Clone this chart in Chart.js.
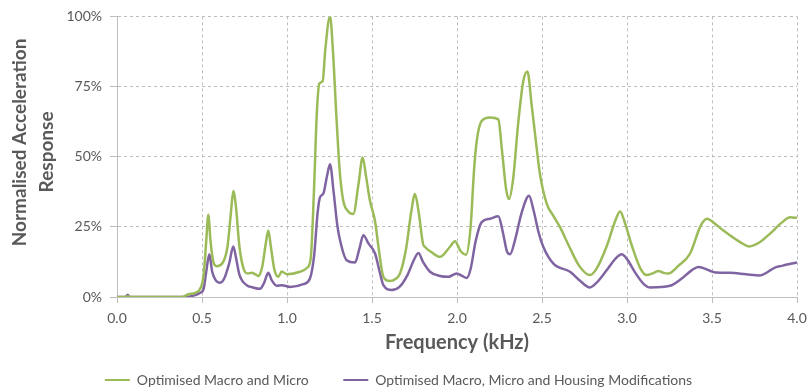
<!DOCTYPE html>
<html>
<head>
<meta charset="utf-8">
<script src="https://cdn.jsdelivr.net/npm/chart.js@4"></script>
<style>
  body { margin: 0; background: #fff; }
</style>
</head>
<body>
<canvas id="myChart" width="807" height="389"></canvas>
<script>
const seriesNames = ['Optimised Macro and Micro', 'Optimised Macro, Micro and Housing Modifications'];

// frequency in kHz, response in %
const greenFreq = [0, 0.05, 0.063, 0.08, 0.38, 0.42, 0.46, 0.49, 0.51, 0.525, 0.537, 0.55, 0.565, 0.586, 0.62, 0.65, 0.67, 0.684, 0.70, 0.72,
  0.745, 0.77, 0.792, 0.81, 0.831, 0.855, 0.875, 0.89, 0.905, 0.925, 0.949, 0.969, 1.0, 1.076, 1.12, 1.14, 1.16, 1.175, 1.19, 1.21,
  1.225, 1.253, 1.27, 1.29, 1.31, 1.331, 1.36, 1.39, 1.42, 1.445, 1.465, 1.488, 1.518, 1.54, 1.567, 1.606, 1.64, 1.665, 1.70, 1.73,
  1.753, 1.775, 1.80, 1.812, 1.85, 1.9, 1.96, 1.988, 2.02, 2.053, 2.08, 2.1, 2.116, 2.145, 2.194, 2.243, 2.265, 2.29, 2.306, 2.33,
  2.36, 2.39, 2.414, 2.44, 2.465, 2.488, 2.528, 2.566, 2.606, 2.66, 2.72, 2.782, 2.82, 2.88, 2.93, 2.959, 2.99, 3.03, 3.08, 3.116,
  3.15, 3.184, 3.215, 3.243, 3.30, 3.371, 3.43, 3.45, 3.469, 3.53, 3.567, 3.67, 3.72, 3.78, 3.84, 3.91, 3.96, 4.0];
const greenResp = [0, 0, 0.3, 0, 0, 1, 1.5, 3, 8, 20, 29.3, 20, 13, 11, 12, 18, 30, 37.8, 32, 18,
  10, 8.4, 8.6, 8.2, 7.5, 11, 19, 23.7, 18, 10, 7.2, 9.1, 8.1, 9, 10.5, 14, 40, 65, 76, 77,
  88, 100, 88, 65, 45, 34.3, 30.5, 29.6, 40, 49.7, 43, 34.3, 27, 17, 7.2, 5.7, 6.5, 8.4, 17, 30,
  36.7, 30, 19, 17.8, 16, 14.3, 18, 19.9, 16.5, 15.1, 25, 45, 55.6, 62.7, 64, 63.3, 52, 38, 34.9, 42,
  62, 77, 80.4, 68, 55, 43.8, 33.2, 29, 24.9, 18, 11, 7.8, 10, 18, 27, 30.5, 26, 18, 10, 7.8,
  8.4, 9.3, 8.6, 8.4, 11, 15.5, 25, 27, 27.9, 25.5, 23.7, 19.4, 18, 19.5, 22.5, 26.5, 28.4, 28.2];

const purpleFreq = [0, 0.05, 0.063, 0.075, 0.40, 0.45, 0.49, 0.51, 0.525, 0.543, 0.56, 0.58, 0.606, 0.63, 0.66, 0.684, 0.70, 0.72, 0.763, 0.80,
  0.841, 0.865, 0.89, 0.91, 0.939, 0.969, 1.018, 1.096, 1.135, 1.16, 1.18, 1.194, 1.214, 1.235, 1.253, 1.275, 1.295, 1.312, 1.351, 1.4,
  1.425, 1.449, 1.48, 1.518, 1.545, 1.567, 1.616, 1.66, 1.71, 1.745, 1.773, 1.80, 1.841, 1.90, 1.95, 1.998, 2.03, 2.057, 2.08, 2.11,
  2.145, 2.194, 2.243, 2.27, 2.295, 2.312, 2.34, 2.38, 2.424, 2.45, 2.48, 2.508, 2.567, 2.665, 2.72, 2.782, 2.82, 2.88, 2.93, 2.969,
  3.0, 3.05, 3.1, 3.135, 3.253, 3.32, 3.38, 3.42, 3.527, 3.606, 3.70, 3.782, 3.83, 3.87, 3.91, 4.0];
const purpleResp = [0, 0, 0.8, 0, 0, 0.5, 1.5, 3, 9, 15.2, 9, 6, 5.1, 6.5, 12, 18, 14, 8, 4.2, 3.4,
  2.9, 5, 8.6, 6, 4, 4.2, 3.6, 4.6, 6.6, 15, 30, 35.5, 36.9, 43, 47.3, 37, 26, 20.2, 13.1, 12.3,
  17, 22, 19, 15.5, 9, 4.2, 2.5, 3.5, 8, 13, 15.7, 12.5, 9, 7.5, 7.2, 8.4, 7.5, 6.8, 10, 20,
  26.7, 27.9, 28.8, 23, 16, 15.2, 20, 30, 36.1, 31, 23, 17.8, 11.9, 9, 6, 3.4, 5, 9.5, 13.5, 15.2,
  13.5, 8.5, 4.5, 3.4, 4, 6.5, 9.5, 10.7, 8.7, 8.6, 8.1, 7.7, 9, 10.5, 11.1, 12.3];

const textColor = '#595959';
const gridColor = '#bdbdbd';
const fontFamily = 'Lato, "Open Sans", sans-serif';

const ctx = document.getElementById('myChart').getContext('2d');
const myChart = new Chart(ctx, {
  type: 'line',
  data: {
    datasets: [
      {
        label: seriesNames[0],
        data: greenFreq.map((f, i) => ({ x: f, y: greenResp[i] })),
        borderColor: '#9bbb59',
        backgroundColor: '#9bbb59',
        borderWidth: 2.5,
        pointRadius: 0,
        fill: false,
        cubicInterpolationMode: 'monotone'
      },
      {
        label: seriesNames[1],
        data: purpleFreq.map((f, i) => ({ x: f, y: purpleResp[i] })),
        borderColor: '#8064a2',
        backgroundColor: '#8064a2',
        borderWidth: 2.5,
        pointRadius: 0,
        fill: false,
        cubicInterpolationMode: 'monotone'
      }
    ]
  },
  options: {
    responsive: false,
    animation: false,
    layout: { padding: { top: 15, right: 10, bottom: -8, left: 0 } },
    scales: {
      x: {
        type: 'linear',
        min: 0,
        max: 4,
        afterFit: (scale) => {
          scale.height = 66;
          scale.paddingLeft = 0;
          scale.paddingRight = 10;
        },
        ticks: {
          stepSize: 0.5,
          color: textColor,
          padding: 7,
          font: { family: fontFamily, size: 14 },
          callback: (v) => v.toFixed(1)
        },
        grid: { color: gridColor, tickLength: 6, lineWidth: 1 },
        border: { color: '#bfbfbf', dash: [3, 3], width: 1 },
        title: {
          display: true,
          text: 'Frequency (kHz)',
          color: textColor,
          padding: { top: 0, bottom: 8 },
          font: { family: fontFamily, size: 20, weight: 'bold', lineHeight: 1.2 }
        }
      },
      y: {
        min: 0,
        max: 100,
        afterFit: (scale) => { scale.width = 117; },
        ticks: {
          stepSize: 25,
          color: textColor,
          padding: 8,
          font: { family: fontFamily, size: 14 },
          callback: (v) => v + '%'
        },
        grid: { color: gridColor, tickLength: 7, lineWidth: 1 },
        border: { color: '#bfbfbf', dash: [3, 3], width: 1 },
        title: {
          display: true,
          text: ['\u2002\u2002\u2002Normalised Acceleration', '\u2002Response'],
          color: textColor,
          padding: { top: 6, bottom: 0 },
          font: { family: fontFamily, size: 19, weight: 'bold', lineHeight: 1.45 }
        }
      }
    },
    plugins: {
      tooltip: { enabled: false },
      legend: {
        position: 'bottom',
        labels: {
          usePointStyle: true,
          pointStyle: 'line',
          pointStyleWidth: 25,
          padding: 10,
          color: textColor,
          font: { family: fontFamily, size: 14 },
          generateLabels: (chart) => {
            const items = Chart.defaults.plugins.legend.labels.generateLabels(chart);
            items[0].text = items[0].text + '\u2003\u2003 ';
            items.forEach(it => { it.lineWidth = 2; });
            return items;
          }
        }
      }
    }
  }
});
</script>
</body>
</html>
